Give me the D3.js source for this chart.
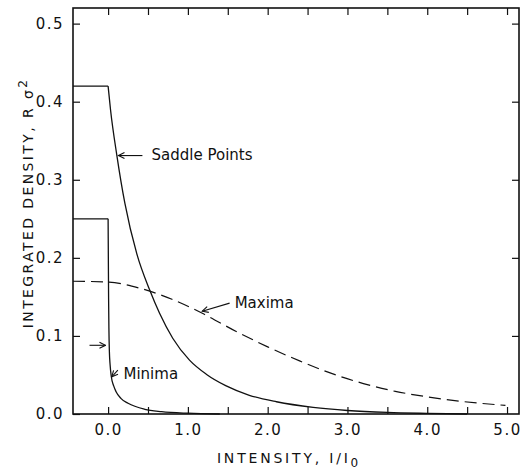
<!DOCTYPE html>
<html>
<head>
<meta charset="utf-8">
<script src="https://cdn.jsdelivr.net/npm/d3@7"></script>
<style>
  body { margin: 0; background: #fff; }
  text { font-family: "DejaVu Sans", sans-serif; fill: #111; }
</style>
</head>
<body>
<script>
var width = 524,
    height = 471;

// data: [I/I0, R sigma^2]
// flat part for I < 0, then the decay from I = 0
var saddleFlat = [[-0.44, 0.42], [0.0, 0.42]];
var saddle = [[0.0, 0.42], [0.03, 0.39], [0.11, 0.331], [0.21, 0.27], [0.36, 0.205],
  [0.52, 0.159], [0.645, 0.129], [0.81, 0.097], [1.02, 0.069], [1.23, 0.051], [1.48, 0.036],
  [1.77, 0.024], [2.11, 0.0157], [2.57, 0.0085], [3.0, 0.0045], [3.5, 0.002], [4.0, 0.0008], [4.5, 0.0]];

var minimaFlat = [[-0.44, 0.25], [0.0, 0.25]];
var minima = [[0.0, 0.25], [0.003, 0.2], [0.006, 0.15], [0.01, 0.11], [0.016, 0.08],
  [0.025, 0.063], [0.04, 0.048], [0.07, 0.036], [0.1, 0.0285], [0.16, 0.02], [0.25, 0.0137],
  [0.46, 0.006], [0.67, 0.003], [1.0, 0.001], [1.4, 0.0]];

var maxima = [[-0.44, 0.17], [0.0, 0.169], [0.4, 0.161], [0.8, 0.147], [1.2, 0.128],
  [1.6, 0.106], [2.0, 0.086], [2.4, 0.068], [2.8, 0.052], [3.2, 0.039], [3.6, 0.029],
  [4.0, 0.022], [4.4, 0.0165], [4.98, 0.011]];

var xTicks = [0, 0.5, 1, 1.5, 2, 2.5, 3, 3.5, 4, 4.5, 5];
var xLabels = [0, 1, 2, 3, 4, 5];
var yTicks = [0, 0.1, 0.2, 0.3, 0.4, 0.5];

// annotations: text anchor and arrow (from -> to), in data units
var notes = [
  {text: "Saddle Points", at: [0.545, 0.325], from: [0.43, 0.331], to: [0.13, 0.331]},
  {text: "Maxima", at: [1.586, 0.136], from: [1.523, 0.142], to: [1.18, 0.1317]},
  {text: "Minima", at: [0.193, 0.0448], from: [0.122, 0.0563], to: [0.046, 0.0477]},
  {text: "", at: [0, 0], from: [-0.233, 0.088], to: [-0.033, 0.088]}
];

var margin = {top: 8, right: 5, bottom: 57, left: 73};

var x = d3.scaleLinear().domain([-0.44, 5.15]).range([margin.left, width - margin.right]);
var y = d3.scaleLinear().domain([0, 0.52]).range([height - margin.bottom, margin.top]);

var svg = d3.select("body").append("svg")
    .attr("width", width)
    .attr("height", height);

svg.append("defs").append("marker")
    .attr("id", "head")
    .attr("markerUnits", "userSpaceOnUse")
    .attr("viewBox", "-8 -4 9 8")
    .attr("refX", 0).attr("refY", 0)
    .attr("markerWidth", 9).attr("markerHeight", 8)
    .attr("orient", "auto")
  .append("path")
    .attr("d", "M-6,-3L0,0L-6,3")
    .attr("fill", "none")
    .attr("stroke", "#111")
    .attr("stroke-width", 1.1);

var line = d3.line()
    .x(function(d) { return x(d[0]); })
    .y(function(d) { return y(d[1]); })
    .curve(d3.curveMonotoneX);

var flat = d3.line()
    .x(function(d) { return x(d[0]); })
    .y(function(d) { return y(d[1]); });

[[saddleFlat, flat], [saddle, line], [minimaFlat, flat], [minima, line]].forEach(function(s) {
  svg.append("path").datum(s[0])
      .attr("d", s[1])
      .attr("fill", "none")
      .attr("stroke", "#111")
      .attr("stroke-width", 1.3)
      .attr("stroke-linejoin", "miter");
});

svg.append("path").datum(maxima)
    .attr("d", line).attr("fill", "none").attr("stroke", "#111").attr("stroke-width", 1.2)
    .attr("stroke-dasharray", "12,6");

// axes, ticks pointing inward on all four sides
var yBase = y(0), xLeft = x(x.domain()[0]), yTop = y(y.domain()[1]), xRight = x(x.domain()[1]);

svg.append("g")
    .attr("transform", "translate(0," + yBase + ")")
    .call(d3.axisBottom(x).tickValues(xTicks).tickSize(-7).tickPadding(10.5)
      .tickFormat(function(d) { return xLabels.indexOf(d) >= 0 ? d3.format(".1f")(d) : ""; }))
    .call(styleAxis);

svg.append("g")
    .attr("transform", "translate(0," + yTop + ")")
    .call(d3.axisTop(x).tickValues(xTicks).tickSize(-7).tickFormat(""))
    .call(styleAxis);

svg.append("g")
    .attr("transform", "translate(" + xLeft + ",0)")
    .call(d3.axisLeft(y).tickValues(yTicks).tickSize(-7).tickPadding(9).tickFormat(d3.format(".1f")))
    .call(styleAxis);

svg.append("g")
    .attr("transform", "translate(" + xRight + ",0)")
    .call(d3.axisRight(y).tickValues(yTicks.slice(1)).tickSize(-7).tickFormat(""))
    .call(styleAxis);

function styleAxis(g) {
  g.select(".domain").remove();
  g.selectAll(".tick line").attr("stroke", "#111").attr("stroke-width", 1.2);
  g.selectAll(".tick text")
    .style("font-family", "DejaVu Sans")
    .style("font-size", "15px")
    .style("letter-spacing", "1.5px")
    .attr("fill", "#111");
}

svg.append("rect")
    .attr("x", xLeft).attr("y", yTop)
    .attr("width", xRight - xLeft).attr("height", yBase - yTop)
    .attr("fill", "none").attr("stroke", "#111").attr("stroke-width", 1.6);

// axis titles
var xt = svg.append("text")
    .attr("x", 289).attr("y", 463)
    .attr("text-anchor", "middle")
    .style("font-size", "14px")
    .style("letter-spacing", "2.8px");
xt.append("tspan").text("INTENSITY, I/I");
xt.append("tspan").attr("dy", 4).style("font-size", "12px").text("0");

var yt = svg.append("text")
    .attr("transform", "translate(33," + 203 + ") rotate(-90)")
    .attr("text-anchor", "middle")
    .style("font-size", "14px")
    .style("letter-spacing", "2.4px");
yt.append("tspan").text("INTEGRATED DENSITY, R σ");
yt.append("tspan").attr("dy", -6).style("font-size", "12px").text("2");

// annotations
notes.forEach(function(n) {
  svg.append("line")
      .attr("x1", x(n.from[0])).attr("y1", y(n.from[1]))
      .attr("x2", x(n.to[0])).attr("y2", y(n.to[1]))
      .attr("stroke", "#111").attr("stroke-width", 1.1)
      .attr("marker-end", "url(#head)");
  if (n.text) {
    svg.append("text")
        .attr("x", x(n.at[0])).attr("y", y(n.at[1]))
        .style("font-size", "15px")
        .text(n.text);
  }
});
</script>
</body>
</html>
